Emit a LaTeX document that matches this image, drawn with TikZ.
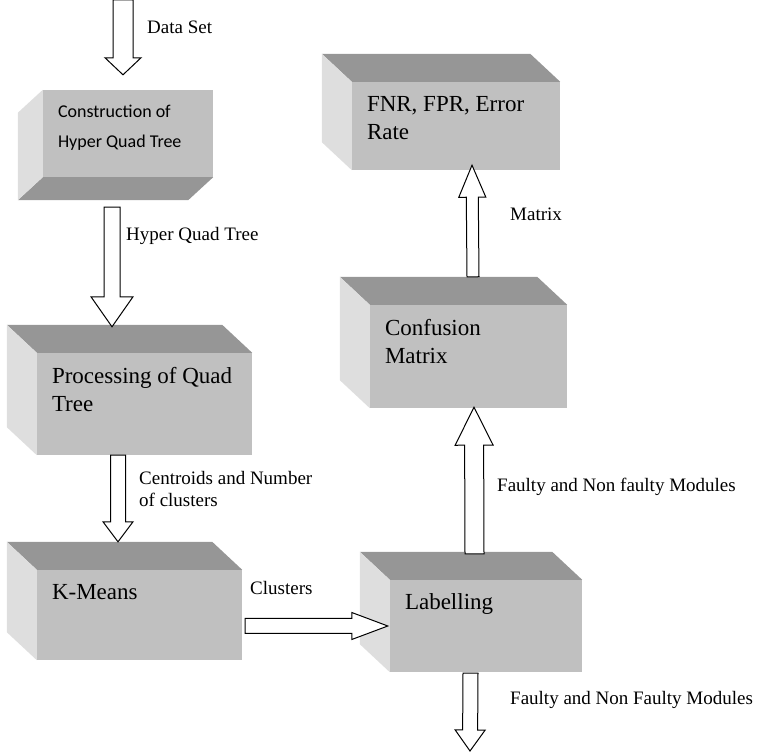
\documentclass[tikz,border=0pt]{standalone}
\usepackage{fontspec}
\setmainfont{Liberation Serif}
\newfontfamily\sansbox{Carlito}
\usetikzlibrary{calc,positioning}
\definecolor{frontgray}{RGB}{192,192,192}
\definecolor{topgray}{RGB}{150,150,150}
\definecolor{sidegray}{RGB}{222,222,222}

\tikzset{
  face/.style={fill=frontgray, inner sep=0pt},
  boxtext/.style={anchor=north west, align=left, inner sep=0pt, xshift=15, yshift=-14,
    font=\fontsize{23}{28}\selectfont},
  edgetext/.style={anchor=west, align=left, inner sep=0pt,
    font=\fontsize{19}{22}\selectfont},
  % hollow block arrow: half shaft width, half head width, head length
  block arrow/.style n args={3}{draw, fill=white, line width=1pt,
    to path={
      ($(\tikztostart)!#1!90:(\tikztotarget)$)
      -- ($(\tikztotarget)!#3!(\tikztostart)!#1!90:(\tikztotarget)$)
      -- ($(\tikztotarget)!#3!(\tikztostart)!#2!90:(\tikztotarget)$)
      -- (\tikztotarget)
      -- ($(\tikztotarget)!#3!(\tikztostart)!#2!-90:(\tikztotarget)$)
      -- ($(\tikztotarget)!#3!(\tikztostart)!#1!-90:(\tikztotarget)$)
      -- ($(\tikztostart)!#1!-90:(\tikztotarget)$)
      -- cycle}}
}

\begin{document}
\begin{tikzpicture}[x=1pt, y=1pt]
    \useasboundingbox (0,0) rectangle (760,752);

    % Left column
    \node[face, minimum width=170, minimum height=87,
      label={[boxtext, yshift=-1.5, font=\sansbox\fontsize{18}{30}\selectfont]north west:{Construction of\\Hyper Quad Tree}}] (cons) at (128,618.5) {};
    \node[face, minimum width=215, minimum height=102,
      label={[boxtext]north west:{Processing of Quad\\Tree}}] (proc) at (144.5,348) {};
    \node[face, minimum width=205, minimum height=90,
      label={[boxtext]north west:{K-Means}}] (kmeans) at (139.5,137) {};

    % Right column
    \node[face, minimum width=192, minimum height=92,
      label={[boxtext]north west:{Labelling}}] (labl) at (486,126) {};
    \node[face, minimum width=197, minimum height=103,
      label={[boxtext]north west:{Confusion\\Matrix}}] (conf) at (468.5,395.5) {};
    \node[face, minimum width=208, minimum height=88,
      label={[boxtext]north west:{FNR, FPR, Error\\Rate}}] (fnr) at (456,626) {};

    % Depth faces (first box seen from below)
    \fill[topgray] (cons.south west) -- ++(-25,-23) -- ([shift={(-25,-23)}]cons.south east) -- (cons.south east) -- cycle;
    \fill[sidegray] (cons.north west) -- ++(-25,-23) -- ([shift={(-25,-23)}]cons.south west) -- (cons.south west) -- cycle;
    \foreach \n in {proc,kmeans,labl,conf,fnr}{
      \fill[topgray] (\n.north west) -- ++(-30,28) -- ([shift={(-30,28)}]\n.north east) -- (\n.north east) -- cycle;
      \fill[sidegray] (\n.north west) -- ++(-30,28) -- ([shift={(-30,28)}]\n.south west) -- (\n.south west) -- cycle;
    }

    % Free ends
    \coordinate (din) at (123,752);
    \coordinate (dout) at (470,1);

    % Arrows
    \draw[block arrow={10pt}{18pt}{17pt}] (din) to ([xshift=-5,yshift=15]cons.north);
    \draw[block arrow={8pt}{21pt}{30pt}] ([xshift=-16,yshift=-30]cons.south) to ([xshift=-32.5,yshift=26]proc.north);
    \draw[block arrow={7.5pt}{15pt}{20pt}] ([xshift=-26.5]proc.south) to ([xshift=-21.5,yshift=28]kmeans.north);
    \draw[block arrow={7.5pt}{13.5pt}{36pt}] ([xshift=3]kmeans.east |- labl.west) to ([xshift=-2]labl.west);
    \draw[block arrow={9.5pt}{19pt}{38pt}] ([xshift=-11.5,yshift=26]labl.north) to ([xshift=5.5,yshift=1]conf.south);
    \draw[block arrow={6pt}{13.5pt}{32pt}] ([xshift=4.5,yshift=28]conf.north) to ([xshift=16,yshift=5]fnr.south);
    \draw[block arrow={7.5pt}{15pt}{21pt}] ([xshift=-15.5,yshift=-1]labl.south) to (dout);

    % Arrow texts
    \node[edgetext] (tdata) at (147,725) {Data Set};
    \node[edgetext] (thqt) at (126,516) {Hyper Quad Tree};
    \node[edgetext] (tcent) at (139,263) {Centroids and Number\\of clusters};
    \node[edgetext] (tclus) at (250,164) {Clusters};
    \node[edgetext] (tmat) at (510,538) {Matrix};
    \node[edgetext] (tfault) at (497,265) {Faulty and Non faulty Modules};
    \node[edgetext] (tout) at (510,52) {Faulty and Non Faulty Modules};
\end{tikzpicture}
\end{document}
